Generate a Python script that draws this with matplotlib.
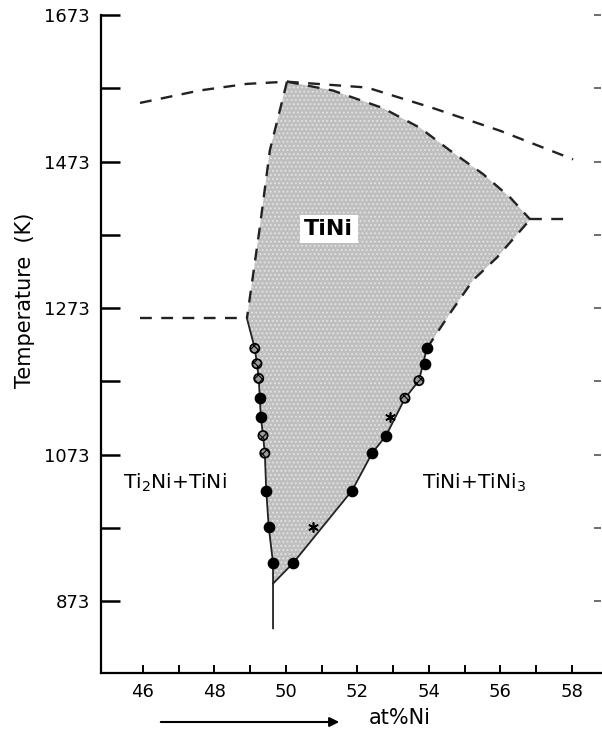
import matplotlib
matplotlib.use("Agg")
import matplotlib.pyplot as plt
from matplotlib.ticker import FixedLocator

plt.rcParams['font.family'] = ['DejaVu Sans']
plt.rcParams['hatch.linewidth'] = 0.8

# Liquidus
liq_x = [45.92, 47.59, 48.91, 50.03, 52.27, 54.11, 55.99, 58.03]
liq_T = [1553, 1570, 1579, 1582, 1574, 1546, 1515, 1476]
# Ni-rich solidus of TiNi
sol_ni_x = [50.03, 51.31, 52.71, 53.75, 54.59, 55.51, 56.27, 56.83]
sol_ni_T = [1582, 1570, 1546, 1519, 1488, 1456, 1424, 1394]
# Ti-rich solidus of TiNi
sol_ti_x = [50.03, 49.55, 49.27, 48.91]
sol_ti_T = [1582, 1488, 1383, 1259]
# Invariant isotherms
peri_x = [56.83, 58.0]
peri_T = [1394, 1394]
eut_x = [45.92, 48.91]
eut_T = [1259, 1259]
# Ti-rich solvus
solv_ti_x = [48.91, 49.13, 49.19, 49.24, 49.27, 49.30, 49.36, 49.41, 49.45, 49.52, 49.64, 49.64]
solv_ti_T = [1259, 1218, 1197, 1177, 1150, 1124, 1099, 1075, 1024, 974, 925, 836]
# Ni-rich solvus (measured part and extrapolated part)
solv_ni_x = [49.64, 50.20, 50.95, 51.85, 52.41, 52.80, 53.33, 53.72, 53.94]
solv_ni_T = [897, 925, 970, 1024, 1075, 1099, 1150, 1174, 1218]
solv_ni_ext_x = [53.94, 54.59, 55.23, 55.90, 56.83]
solv_ni_ext_T = [1218, 1266, 1311, 1342, 1394]

# Experimental points
filled_x = [49.27, 49.30, 49.45, 49.52, 49.64, 50.20, 53.94, 53.89, 52.80, 52.41, 51.85]
filled_T = [1150, 1124, 1024, 974, 925, 925, 1218, 1197, 1099, 1075, 1024]
hatched_x = [49.13, 49.19, 49.24, 49.36, 49.41, 53.72, 53.33]
hatched_T = [1218, 1197, 1177, 1099, 1075, 1174, 1150]
star_x = [50.76, 52.91]
star_T = [974, 1124]

# Axis ticks
x_major = [46, 48, 50, 52, 54, 56, 58]
x_all = list(range(46, 59))
y_major = [873, 1073, 1273, 1473, 1673]
y_all = [873, 973, 1073, 1173, 1273, 1373, 1473, 1573, 1673]

fig = plt.figure(figsize=(6.02, 7.31), dpi=100)
ax = fig.add_axes([101 / 602, 1 - 673 / 731, 500 / 602, 658 / 731])
ax.set_xlim(44.83, 58.81)
ax.set_ylim(775, 1673)

# TiNi single-phase field
poly_x = (sol_ni_x + solv_ni_ext_x[::-1][1:] + solv_ni_x[::-1][1:]
          + solv_ti_x[:-1][::-1] + sol_ti_x[::-1][1:])
poly_T = (sol_ni_T + solv_ni_ext_T[::-1][1:] + solv_ni_T[::-1][1:]
          + solv_ti_T[:-1][::-1] + sol_ti_T[::-1][1:])
ax.fill(poly_x, poly_T, facecolor='#bfbfbf', edgecolor='#e4e4e4', linewidth=0,
        hatch='....', zorder=1)

dash = dict(color='#222222', lw=1.7, dashes=(5, 4), zorder=3)
ax.plot(liq_x, liq_T, **dash)
ax.plot(sol_ni_x, sol_ni_T, **dash)
ax.plot(sol_ti_x, sol_ti_T, **dash)
ax.plot(peri_x, peri_T, **dash)
ax.plot(eut_x, eut_T, **dash)
ax.plot(solv_ni_ext_x, solv_ni_ext_T, **dash)
ax.plot(solv_ti_x, solv_ti_T, color='#222222', lw=1.3, zorder=3)
ax.plot(solv_ni_x, solv_ni_T, color='#222222', lw=1.3, zorder=3)

ax.scatter(filled_x, filled_T, s=55, color='black', zorder=5)
ax.scatter(hatched_x, hatched_T, s=45, facecolor='#9a9a9a', edgecolor='black',
           linewidth=1.2, hatch='xxxx', zorder=5)
ax.scatter(star_x, star_T, s=45, marker=(6, 2, 0), color='black',
           linewidth=1.2, zorder=5)

ax.text(51.2, 1381, 'TiNi', fontsize=16, fontweight='bold', ha='center',
        va='center', zorder=6,
        bbox=dict(facecolor='white', edgecolor='none', pad=3))
ax.text(46.9, 1034, 'Ti$_2$Ni+TiNi', fontsize=14.5, ha='center', va='center')
ax.text(55.26, 1034, 'TiNi+TiNi$_3$', fontsize=14.5, ha='center', va='center')

for side in ['top', 'right']:
    ax.spines[side].set_visible(False)
for side in ['left', 'bottom']:
    ax.spines[side].set_linewidth(1.6)

ax.xaxis.set_major_locator(FixedLocator(x_major))
ax.xaxis.set_minor_locator(FixedLocator(x_all))
ax.yaxis.set_major_locator(FixedLocator(y_major))
ax.yaxis.set_minor_locator(FixedLocator(y_all))
ax.tick_params(axis='y', which='both', direction='in', length=14, width=1.8,
               labelsize=13, pad=8)
ax.tick_params(axis='x', which='both', direction='in', length=6, width=1.4,
               labelsize=13, pad=7)

# Short ticks along the right edge
ax2 = ax.twinx()
ax2.set_ylim(ax.get_ylim())
ax2.yaxis.set_major_locator(FixedLocator(y_all))
ax2.tick_params(axis='y', direction='in', length=5, width=1.2,
                labelright=False, color='#555555')
for s in ax2.spines.values():
    s.set_visible(False)

fig.text(25 / 602, 1 - 300 / 731, 'Temperature  (K)', rotation=90,
         fontsize=15, ha='center', va='center')
fig.text(400 / 602, 1 - 718 / 731, 'at%Ni', fontsize=15, ha='center',
         va='center')
fig.add_artist(matplotlib.patches.FancyArrowPatch(
    (158 / 602, 1 - 722 / 731), (342 / 602, 1 - 722 / 731),
    transform=fig.transFigure, arrowstyle='-|>', mutation_scale=14,
    color='black', lw=1.5))

fig.savefig('out.png', dpi=100)
